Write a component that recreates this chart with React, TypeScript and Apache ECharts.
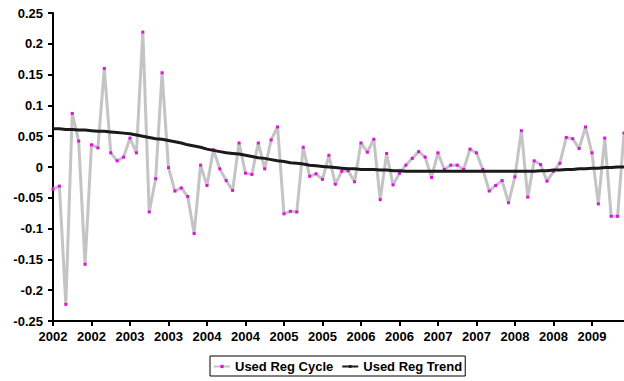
import React, { useEffect, useRef } from "react";
import * as echarts from "echarts";

const START_YEAR = 2002;
const MONTH_COUNT = 90;
const CATEGORIES: string[] = [];
for (let i = 0; i < MONTH_COUNT; i++) {
  const y = START_YEAR + Math.floor(i / 12);
  const m = (i % 12) + 1;
  CATEGORIES.push(`${y}-${m < 10 ? "0" + m : m}`);
}

const CYCLE_NAME = "Used Reg Cycle";
const TREND_NAME = "Used Reg Trend";

const CYCLE: number[] = [
  -0.036, -0.031, -0.223, 0.087, 0.042, -0.158, 0.036, 0.031, 0.16, 0.023,
  0.01, 0.016, 0.047, 0.023, 0.219, -0.073, -0.019, 0.153, -0.001, -0.039,
  -0.034, -0.048, -0.108, 0.003, -0.03, 0.028, -0.003, -0.022, -0.038, 0.039,
  -0.01, -0.012, 0.039, -0.003, 0.044, 0.065, -0.076, -0.072, -0.073, 0.032,
  -0.015, -0.011, -0.02, 0.019, -0.028, -0.007, -0.006, -0.024, 0.039, 0.024,
  0.045, -0.053, 0.022, -0.029, -0.01, 0.003, 0.014, 0.025, 0.016, -0.017,
  0.023, -0.004, 0.003, 0.003, -0.004, 0.029, 0.023, -0.004, -0.039, -0.03,
  -0.022, -0.058, -0.016, 0.059, -0.049, 0.01, 0.004, -0.023, -0.007, 0.006,
  0.048, 0.046, 0.03, 0.065, 0.023, -0.06, 0.047, -0.08, -0.08, 0.055,
];

const TREND: number[] = [
  0.062, 0.062, 0.061, 0.061, 0.06, 0.06, 0.059, 0.058, 0.058, 0.057,
  0.056, 0.055, 0.054, 0.052, 0.05, 0.048, 0.046, 0.045, 0.043, 0.041,
  0.039, 0.036, 0.034, 0.032, 0.029, 0.027, 0.025, 0.023, 0.022, 0.021,
  0.019, 0.017, 0.015, 0.014, 0.012, 0.01, 0.009, 0.007, 0.006, 0.005,
  0.003, 0.002, 0.001, 0.0, -0.001, -0.002, -0.003, -0.003, -0.004, -0.004,
  -0.004, -0.005, -0.005, -0.006, -0.006, -0.007, -0.007, -0.007, -0.007, -0.007,
  -0.007, -0.007, -0.007, -0.007, -0.007, -0.007, -0.007, -0.007, -0.007, -0.007,
  -0.007, -0.007, -0.007, -0.007, -0.007, -0.007, -0.006, -0.006, -0.005, -0.005,
  -0.004, -0.004, -0.003, -0.003, -0.002, -0.002, -0.001, -0.001, 0.0, 0.0,
];

const FONT = "'Liberation Sans', Arial, sans-serif";

export default function App() {
  const ref = useRef<HTMLDivElement>(null);
  useEffect(() => {
    if (!ref.current) return;
    const chart = echarts.init(ref.current, null, { renderer: "svg" });
    chart.setOption({
      animation: false,
      backgroundColor: "#ffffff",
      grid: { left: 53, top: 13, width: 573, bottom: 60, containLabel: false },
      legend: {
        left: 210,
        top: 356,
        padding: [4, 3, 3, 3],
        borderColor: "#000",
        borderWidth: 1,
        itemWidth: 16,
        itemHeight: 4,
        itemGap: 8,
        textStyle: { fontFamily: FONT, fontSize: 13, fontWeight: "bold", color: "#000" },
        data: [CYCLE_NAME, TREND_NAME],
      },
      xAxis: {
        type: "category",
        data: CATEGORIES,
        boundaryGap: false,
        axisLine: { onZero: false, lineStyle: { color: "#000", width: 2 } },
        axisTick: { interval: 5, length: 5, lineStyle: { color: "#000", width: 2 } },
        axisLabel: {
          interval: 5,
          margin: 9,
          color: "#000",
          fontFamily: FONT,
          fontSize: 13,
          fontWeight: "bold",
          formatter: (v: string) => v.slice(0, 4),
        },
        splitLine: { show: false },
      },
      yAxis: {
        type: "value",
        min: -0.25,
        max: 0.25,
        interval: 0.05,
        axisLine: { show: true, lineStyle: { color: "#000", width: 2 } },
        axisTick: { show: true, length: 5, lineStyle: { color: "#000", width: 2 } },
        axisLabel: {
          margin: 10,
          color: "#000",
          fontFamily: FONT,
          fontSize: 13,
          fontWeight: "bold",
          formatter: (v: number) => String(Math.round(v * 100) / 100),
        },
        splitLine: { show: false },
      },
      series: [
        {
          name: CYCLE_NAME,
          type: "line",
          data: CYCLE,
          symbol: "rect",
          symbolSize: 3,
          showAllSymbol: true,
          itemStyle: { color: "#e010e0" },
          lineStyle: { color: "#c4c4c4", width: 3 },
          z: 2,
        },
        {
          name: TREND_NAME,
          type: "line",
          data: TREND,
          symbol: "none",
          itemStyle: { color: "#1a1a1a" },
          lineStyle: { color: "#1a1a1a", width: 3 },
          z: 3,
        },
      ],
    });
    return () => chart.dispose();
  }, []);
  return (
    <div
      ref={ref}
      style={{ position: "absolute", left: 0, top: 0, width: 624, height: 381 }}
    />
  );
}
